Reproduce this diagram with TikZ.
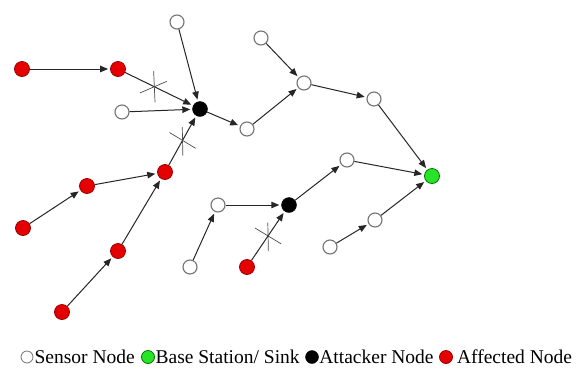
\documentclass[tikz,border=0pt]{standalone}
\usepackage{fontspec}
\setmainfont{Liberation Serif}
\usetikzlibrary{arrows.meta,shapes.misc,positioning}

\definecolor{nodered}{RGB}{228,0,0}
\definecolor{nodegreen}{RGB}{40,228,40}

\begin{document}
\begin{tikzpicture}[x=1pt, y=-1pt,
	sensor/.style={circle, draw=black!55, line width=1.1pt, fill=white, minimum size=14pt, inner sep=0pt},
	affected/.style={circle, draw=red!60!black, line width=0.8pt, fill=nodered, minimum size=15pt, inner sep=0pt},
	attacker/.style={circle, draw=black, fill=black, minimum size=15pt, inner sep=0pt},
	sink/.style={circle, draw=green!45!black, line width=0.8pt, fill=nodegreen, minimum size=15pt, inner sep=0pt},
	link/.style={-{Triangle[length=8pt,width=6.5pt]}, line width=1pt, black!85, shorten >=2pt},
	cut/.style={cross out, draw=black!70, line width=0.7pt, inner sep=0pt},
	legtext/.style={font=\fontsize{19.5}{22}\selectfont, inner sep=0pt}]
			\useasboundingbox (0,0) rectangle (579,368);
			
			\node[affected] (r1) at (22,69) {};
			\node[affected] (r2) at (118,69) {};
			\node[affected] (r3) at (165,172) {};
			\node[affected] (r4) at (87,186) {};
			\node[affected] (r5) at (23,228) {};
			\node[affected] (r6) at (118,251) {};
			\node[affected] (r7) at (62,312) {};
			\node[affected] (r8) at (247,267) {};
			
			\node[attacker] (a1) at (200,109) {};
			\node[attacker] (a2) at (289,205) {};
			
			\node[sink] (bs) at (432,176) {};
			
			\node[sensor] (s1) at (177,22) {};
			\node[sensor] (s2) at (122,112) {};
			\node[sensor] (s3) at (247,129) {};
			\node[sensor] (s4) at (261,38) {};
			\node[sensor] (s5) at (304,83) {};
			\node[sensor] (s6) at (374,99) {};
			\node[sensor] (s7) at (347,160) {};
			\node[sensor] (s8) at (218,205) {};
			\node[sensor] (s9) at (190,267) {};
			\node[sensor] (s10) at (375,220) {};
			\node[sensor] (s11) at (330,247) {};
			
			\foreach \from/\to in {r1/r2,r5/r4,r4/r3,r7/r6,r6/r3,s1/a1,s2/a1,a1/s3,s3/s5,s4/s5,s5/s6,s6/bs,s7/bs,s11/s10,s10/bs,s9/s8,s8/a2,a2/s7}
			\draw[link] (\from) -- (\to);
			
			% dropped links
			\draw[link] (r2) -- node[cut, pos=0.43, minimum width=25pt, minimum height=17pt, rotate=58] (x1) {} (a1);
			\draw[link] (r3) -- node[cut, pos=0.5, minimum width=26pt, minimum height=14pt, rotate=120] (x2) {} (a1);
			\draw[link] (r8) -- node[cut, pos=0.5, minimum width=26pt, minimum height=14pt, rotate=120] (x3) {} (a2);
			
			% legend
			\node[sensor, minimum size=12pt, line width=0.8pt] (ks) at (27,357) {};
			\node[legtext, right=1pt of ks] (ts) {Sensor Node};
			\node[sink, minimum size=13pt] (kb) at (148,357) {};
			\node[legtext, right=0.5pt of kb] (tb) {Base Station/ Sink};
			\node[attacker, minimum size=13pt] (ka) at (312,357) {};
			\node[legtext, right=0.5pt of ka] (ta) {Attacker Node};
			\node[affected, minimum size=13pt] (kr) at (446,357) {};
			\node[legtext, right=4pt of kr] (tr) {Affected Node};
		\end{tikzpicture}
\end{document}
